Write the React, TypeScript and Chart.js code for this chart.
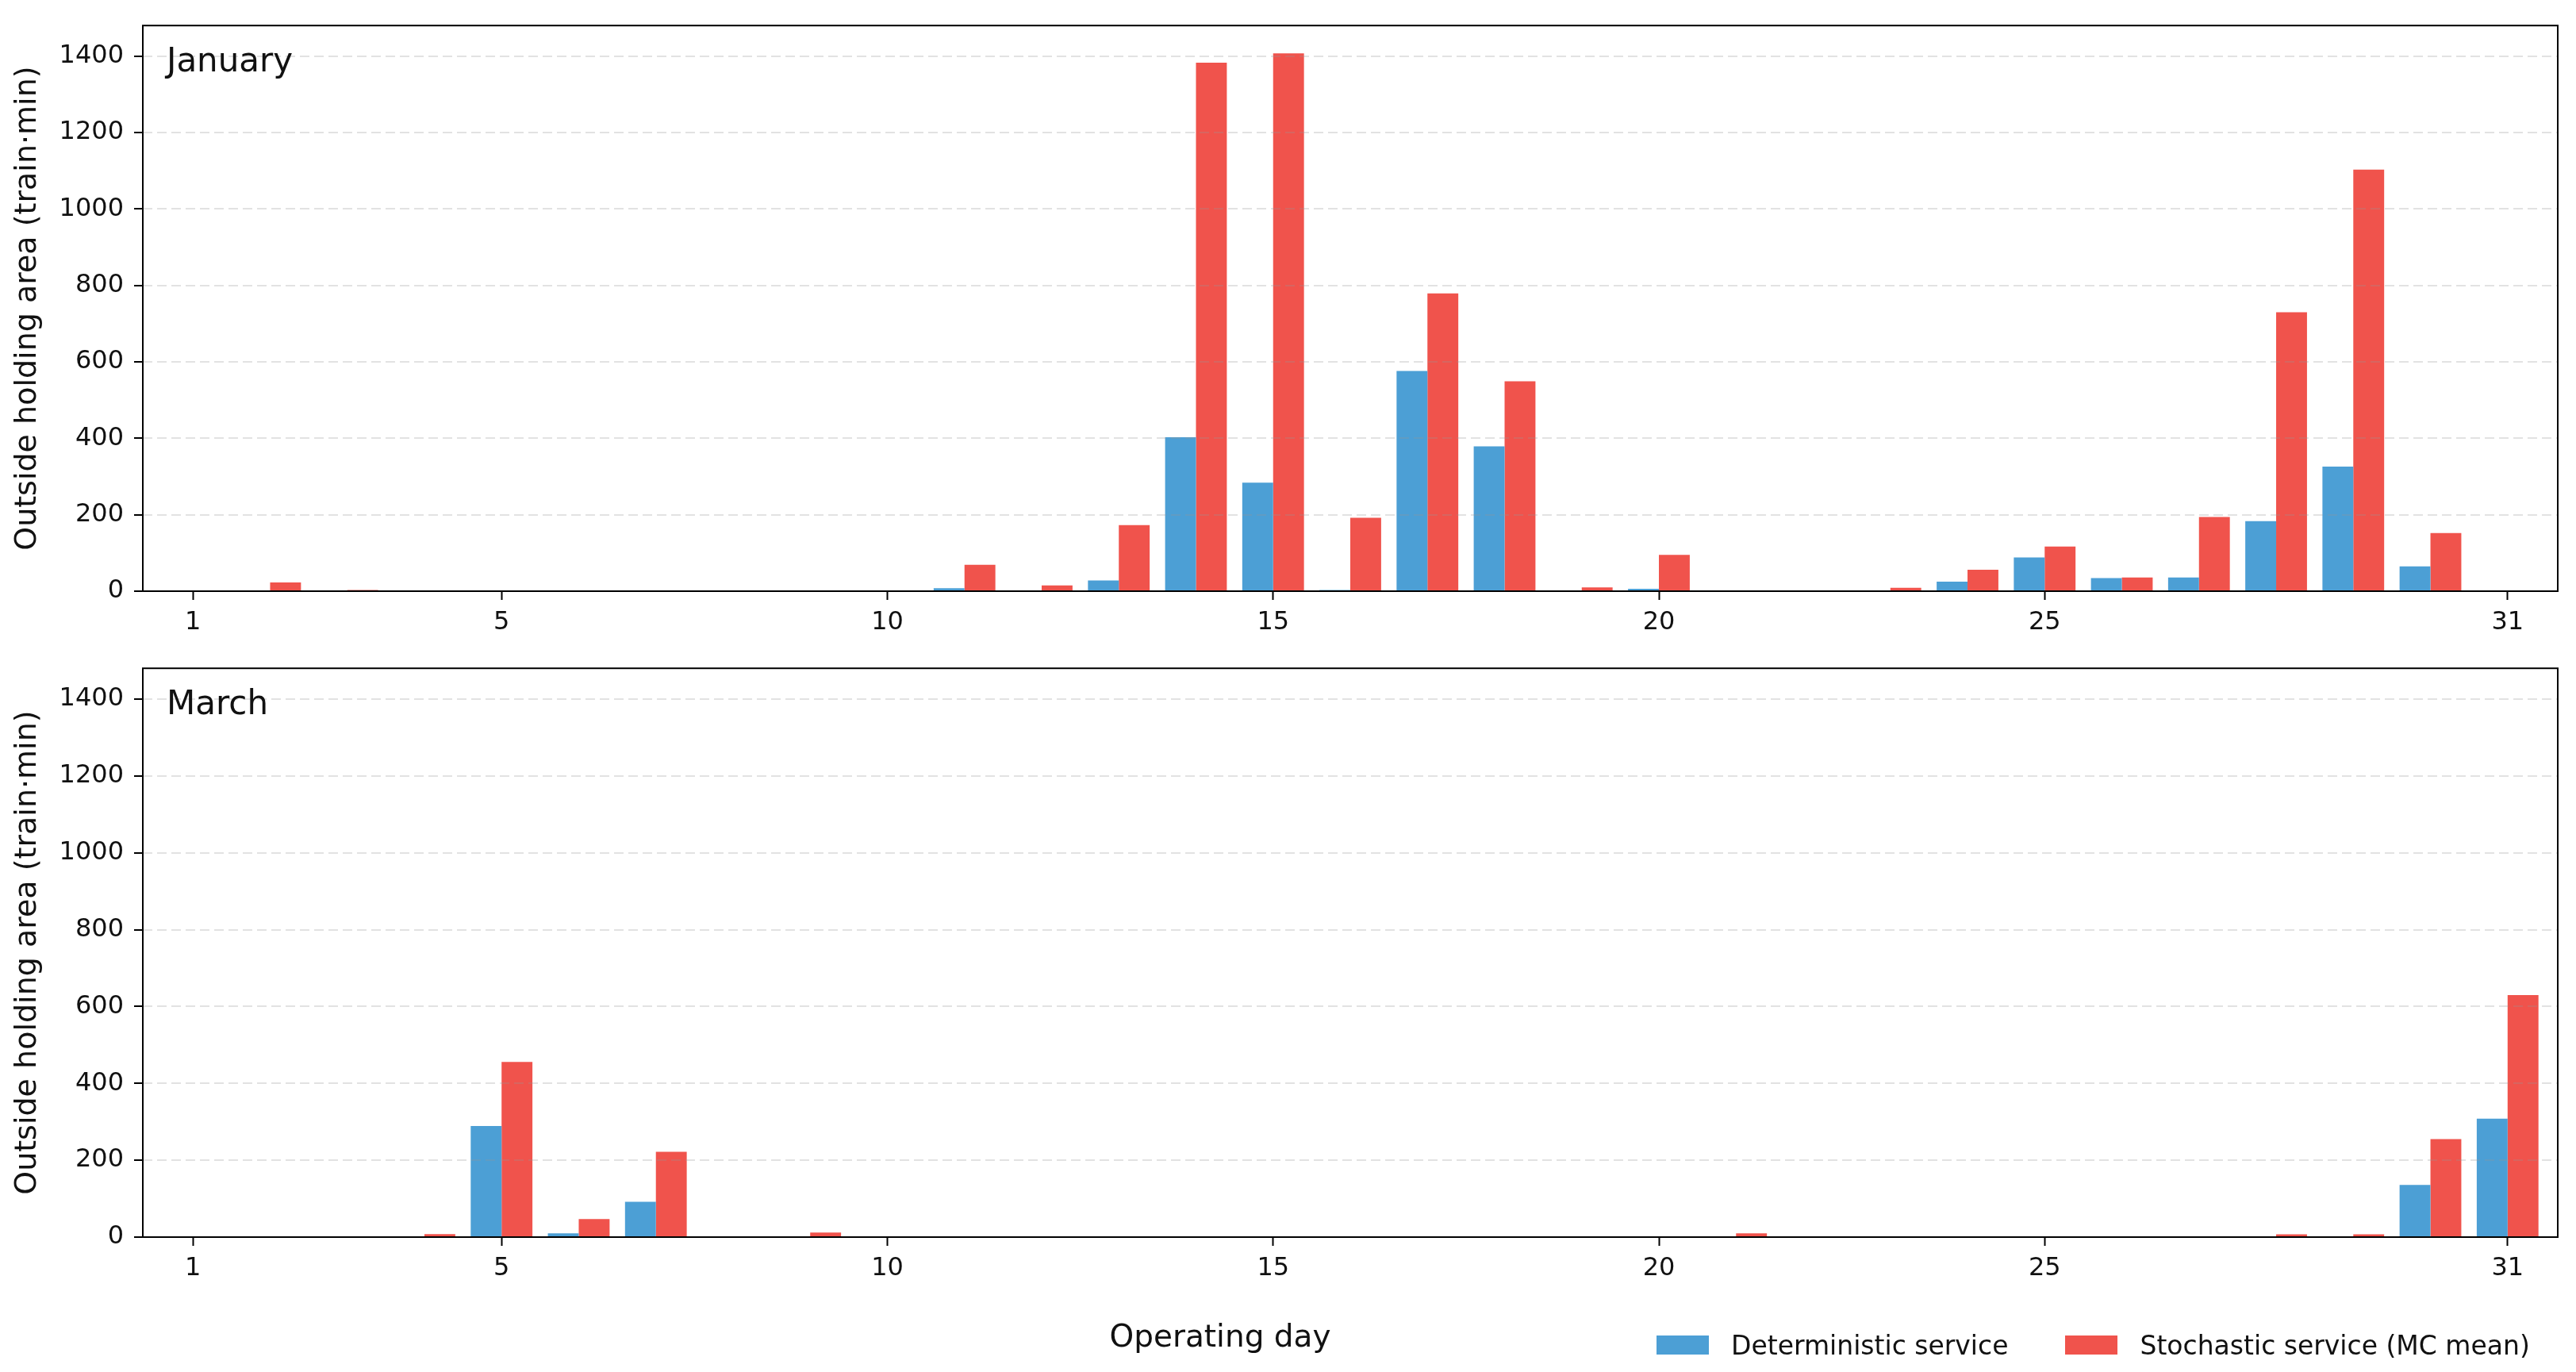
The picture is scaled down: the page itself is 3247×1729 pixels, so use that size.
import { useEffect, useRef } from 'react';
import { Chart, registerables } from 'chart.js';

Chart.register(...registerables);

// Operating days shown on both panels
const DAYS = [1, 2, 3, 4, 5, 6, 7, 8, 9, 10, 11, 12, 13, 14, 15, 16, 17, 18, 19, 20, 21, 22, 23, 24, 25, 26, 27, 28, 29, 30, 31];
const X_TICKS = [1, 5, 10, 15, 20, 25, 31];
const Y_TICKS = [0, 200, 400, 600, 800, 1000, 1200, 1400];

const SERIES_LABELS = ['Deterministic service', 'Stochastic service (MC mean)'];
const SERIES_COLORS = ['#4c9fd5', '#f0534c'];

// January, train·min outside the holding area
const JAN_DETERMINISTIC = [0, 0, 0, 0, 0, 0, 0, 0, 0, 0, 8, 0, 28, 403, 284, 3, 576, 379, 0, 6, 0, 0, 0, 25, 88, 34, 36, 183, 326, 65, 0];
const JAN_STOCHASTIC = [0, 23, 3, 0, 0, 0, 0, 0, 0, 0, 69, 15, 173, 1383, 1407, 192, 779, 549, 10, 95, 0, 0, 9, 56, 117, 36, 194, 730, 1103, 152, 0];

// March
const MAR_DETERMINISTIC = [0, 0, 0, 0, 289, 10, 92, 0, 0, 0, 0, 0, 0, 0, 0, 0, 0, 0, 0, 0, 0, 0, 0, 0, 0, 0, 0, 0, 0, 136, 308];
const MAR_STOCHASTIC = [0, 0, 0, 8, 456, 47, 222, 0, 12, 0, 0, 0, 0, 0, 0, 0, 0, 0, 0, 0, 10, 0, 0, 0, 0, 0, 0, 7, 7, 255, 630];

const FONT = "'DejaVu Sans', sans-serif";
const PAGE_W = 3247;

interface PanelProps {
  name: string;
  det: number[];
  sto: number[];
  top: number;
  height: number;
  padTop: number;
  axisHeight: number;
}

const Panel: React.FC<PanelProps> = ({ name, det, sto, top, height, padTop, axisHeight }) => {
  const canvasRef = useRef<HTMLCanvasElement>(null);

  useEffect(() => {
    if (!canvasRef.current) return;

    // рамка вокруг области графика и подпись месяца внутри
    const framePlugin = {
      id: 'frame',
      afterDraw(chart: Chart) {
        const { ctx, chartArea: a } = chart;
        ctx.save();
        ctx.strokeStyle = '#000';
        ctx.lineWidth = 2;
        ctx.strokeRect(a.left, a.top, a.right - a.left, a.bottom - a.top);
        ctx.font = `42px ${FONT}`;
        ctx.fillStyle = '#111';
        ctx.textBaseline = 'alphabetic';
        ctx.textAlign = 'left';
        ctx.fillText(name, a.left + 30, a.top + 58);
        ctx.restore();
      }
    };

    const chart = new Chart(canvasRef.current, {
      type: 'bar',
      data: {
        datasets: [
          {
            label: SERIES_LABELS[0],
            data: DAYS.map((d, i) => ({ x: d, y: det[i] })),
            backgroundColor: SERIES_COLORS[0],
            borderWidth: 0,
            categoryPercentage: 0.8,
            barPercentage: 1.0
          },
          {
            label: SERIES_LABELS[1],
            data: DAYS.map((d, i) => ({ x: d, y: sto[i] })),
            backgroundColor: SERIES_COLORS[1],
            borderWidth: 0,
            categoryPercentage: 0.8,
            barPercentage: 1.0
          }
        ]
      },
      options: {
        responsive: true,
        maintainAspectRatio: false,
        animation: false,
        layout: { padding: { left: 0, right: 23, top: padTop, bottom: 0 } },
        plugins: {
          legend: { display: false },
          tooltip: { enabled: false }
        },
        scales: {
          x: {
            type: 'linear',
            min: 0.35,
            max: 31.65,
            offset: false,
            afterBuildTicks: (scale: any) => {
              scale.ticks = X_TICKS.map(v => ({ value: v }));
            },
            afterFit: (scale: any) => {
              scale.height = axisHeight;
            },
            grid: {
              offset: false,
              drawOnChartArea: false,
              drawTicks: true,
              tickLength: 11,
              tickColor: '#000',
              tickWidth: 2
            },
            border: { display: false },
            ticks: {
              autoSkip: false,
              maxRotation: 0,
              padding: 9,
              color: '#111',
              font: { family: FONT, size: 32 },
              callback: (v: any) => String(v)
            }
          },
          y: {
            min: 0,
            max: 1480,
            afterBuildTicks: (scale: any) => {
              scale.ticks = Y_TICKS.map(v => ({ value: v }));
            },
            afterFit: (scale: any) => {
              scale.width = 180;
            },
            grid: {
              color: 'rgba(150, 150, 150, 0.28)',
              lineWidth: 2,
              z: 1,
              drawTicks: true,
              tickLength: 11,
              tickColor: '#000',
              tickWidth: 2,
              tickBorderDash: []
            },
            // border не рисуем — рамку дорисовывает плагин, dash нужен для сетки
            border: { display: false, dash: [12, 6] },
            ticks: {
              padding: 13,
              color: '#111',
              font: { family: FONT, size: 32 },
              callback: (v: any) => String(v)
            },
            title: {
              display: true,
              text: 'Outside holding area (train·min)',
              color: '#111',
              font: { family: FONT, size: 38 },
              padding: { top: 12, bottom: 0 }
            }
          }
        }
      },
      plugins: [framePlugin]
    });

    return () => {
      chart.destroy();
    };
  }, [name, det, sto, padTop, axisHeight]);

  return (
    <div style={{ position: 'absolute', left: 0, top, width: PAGE_W, height }}>
      <canvas ref={canvasRef} />
    </div>
  );
};

const App: React.FC = () => {
  return (
    <div
      style={{
        position: 'fixed',
        left: 0,
        top: 0,
        width: PAGE_W,
        height: 1729,
        background: '#fff',
        fontFamily: FONT,
        overflow: 'hidden'
      }}
    >
      <Panel name="January" det={JAN_DETERMINISTIC} sto={JAN_STOCHASTIC} top={0} height={810} padTop={23} axisHeight={65} />
      <Panel name="March" det={MAR_DETERMINISTIC} sto={MAR_STOCHASTIC} top={810} height={919} padTop={29} axisHeight={170} />

      <div
        style={{
          position: 'absolute',
          left: 1538,
          top: 1664,
          transform: 'translateX(-50%)',
          fontSize: 39,
          lineHeight: '39px',
          color: '#111',
          whiteSpace: 'nowrap'
        }}
      >
        Operating day
      </div>

      <div
        style={{
          position: 'absolute',
          left: 2088,
          top: 1675,
          height: 40,
          display: 'flex',
          alignItems: 'center',
          fontSize: 33,
          color: '#111',
          whiteSpace: 'nowrap'
        }}
      >
        {SERIES_LABELS.map((label, i) => (
          <div key={label} style={{ display: 'flex', alignItems: 'center', marginLeft: i === 0 ? 0 : 72 }}>
            <span style={{ display: 'inline-block', width: 66, height: 24, background: SERIES_COLORS[i], marginRight: 28 }} />
            <span>{label}</span>
          </div>
        ))}
      </div>
    </div>
  );
};

export default App;
